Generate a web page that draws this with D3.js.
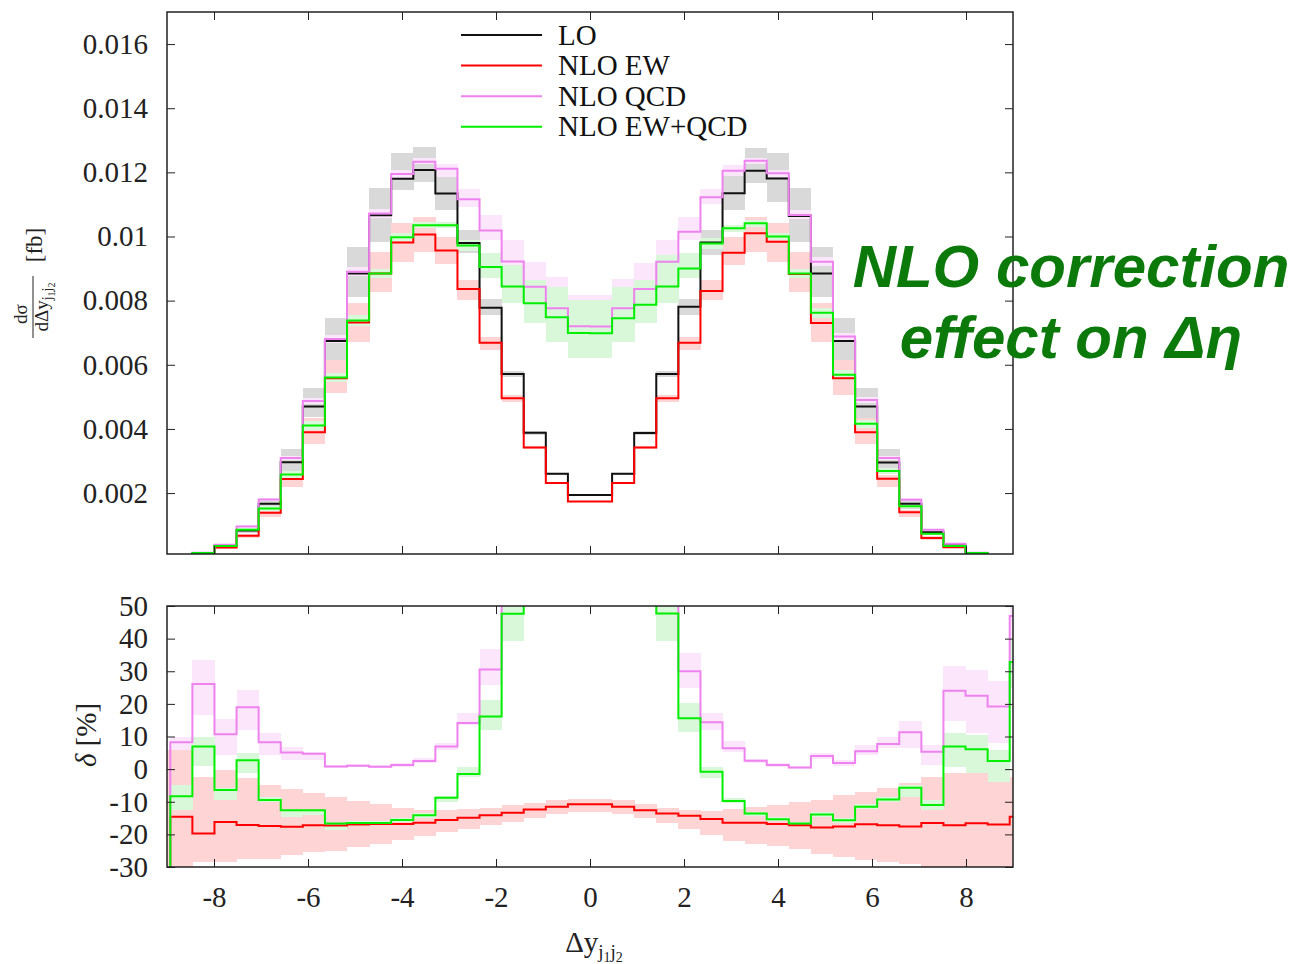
<!DOCTYPE html>
<html lang="en">
<head>
<meta charset="UTF-8">
<title>NLO correction effect on Δη</title>
<script src="https://cdn.jsdelivr.net/npm/d3@7"></script>
<style>
  body { margin: 0; background: #fff; }
  svg text { font-family: "Liberation Serif", "Times New Roman", serif; }
</style>
</head>
<body>
<div id="chart"></div>
<script>
// bin edges of the Δy histogram (two thin bins at the very ends)
const edges = [-9, -8.93, -8.46, -7.99, -7.52, -7.05, -6.58, -6.11, -5.64, -5.17, -4.70, -4.23, -3.76, -3.29, -2.82, -2.35, -1.88, -1.41, -0.94, -0.47, 0,
  0.47, 0.94, 1.41, 1.88, 2.35, 2.82, 3.29, 3.76, 4.23, 4.70, 5.17, 5.64, 6.11, 6.58, 7.05, 7.52, 7.99, 8.46, 8.93, 9];

// upper panel: dσ/dΔy [fb]
const lo = [0, 0.00004, 0.00012, 0.00036, 0.00083, 0.00167, 0.00296, 0.00470, 0.00674, 0.00885, 0.01066, 0.01180, 0.01207, 0.01134, 0.00980, 0.00778, 0.00571, 0.00388, 0.00260, 0.00194,
  0.00194, 0.00260, 0.00387, 0.00571, 0.00781, 0.00981, 0.01135, 0.01205, 0.01181, 0.01064, 0.00885, 0.00674, 0.00470, 0.00295, 0.00167, 0.00078, 0.00037, 0.00012, 0.00004, 0];
const nloEW = [0, 0.00003, 0.00010, 0.00030, 0.00067, 0.00139, 0.00244, 0.00390, 0.00558, 0.00732, 0.00885, 0.00981, 0.01006, 0.00956, 0.00836, 0.00669, 0.00496, 0.00342, 0.00231, 0.00174,
  0.00174, 0.00231, 0.00342, 0.00496, 0.00669, 0.00830, 0.00949, 0.01010, 0.00984, 0.00883, 0.00730, 0.00558, 0.00390, 0.00245, 0.00140, 0.00060, 0.00031, 0.00010, 0.00003, 0];
const nloQCD = [0, 0.00004, 0.00014, 0.00039, 0.00096, 0.00180, 0.00309, 0.00487, 0.00680, 0.00890, 0.01072, 0.01195, 0.01233, 0.01211, 0.01116, 0.01019, 0.00922, 0.00843, 0.00776, 0.00720,
  0.00719, 0.00776, 0.00836, 0.00921, 0.01015, 0.01122, 0.01205, 0.01236, 0.01197, 0.01067, 0.00921, 0.00688, 0.00490, 0.00309, 0.00179, 0.00086, 0.00042, 0.00014, 0.00004, 0];
const nloEWQCD = [0, 0.00004, 0.00013, 0.00035, 0.00086, 0.00152, 0.00258, 0.00411, 0.00560, 0.00738, 0.00885, 0.00998, 0.01035, 0.01035, 0.00972, 0.00905, 0.00844, 0.00792, 0.00748, 0.00699,
  0.00698, 0.00745, 0.00787, 0.00844, 0.00900, 0.00978, 0.01026, 0.01041, 0.01000, 0.00885, 0.00762, 0.00569, 0.00416, 0.00269, 0.00159, 0.00073, 0.00035, 0.00013, 0.00004, 0];

// scale-variation bands, upper panel
const loBandLow = [0, 0.00004, 0.00011, 0.00033, 0.00077, 0.00150, 0.00267, 0.00437, 0.00615, 0.00812, 0.00984, 0.01145, 0.01171, 0.01083, 0.00948, 0.00755, 0.00562, 0.00382, 0.00256, 0.00191,
  0.00191, 0.00256, 0.00381, 0.00562, 0.00755, 0.00942, 0.01083, 0.01168, 0.01108, 0.00984, 0.00812, 0.00615, 0.00434, 0.00267, 0.00150, 0.00072, 0.00034, 0.00011, 0.00004, 0];
const loBandHigh = [0, 0.00004, 0.00013, 0.00039, 0.00091, 0.00184, 0.00337, 0.00527, 0.00745, 0.00966, 0.01150, 0.01261, 0.01278, 0.01192, 0.01020, 0.00805, 0.00580, 0.00394, 0.00264, 0.00197,
  0.00197, 0.00264, 0.00393, 0.00580, 0.00805, 0.01020, 0.01192, 0.01275, 0.01261, 0.01150, 0.00966, 0.00745, 0.00527, 0.00337, 0.00184, 0.00086, 0.00040, 0.00013, 0.00004, 0];
const ewBandLow = [0, 0.00003, 0.00009, 0.00027, 0.00060, 0.00126, 0.00220, 0.00352, 0.00512, 0.00672, 0.00828, 0.00922, 0.00953, 0.00914, 0.00802, 0.00646, 0.00484, 0.00336, 0.00228, 0.00172,
  0.00172, 0.00228, 0.00336, 0.00484, 0.00646, 0.00802, 0.00911, 0.00953, 0.00922, 0.00828, 0.00672, 0.00506, 0.00352, 0.00220, 0.00126, 0.00054, 0.00028, 0.00009, 0.00003, 0];
const ewBandHigh = [0, 0.00003, 0.00011, 0.00033, 0.00072, 0.00147, 0.00257, 0.00434, 0.00615, 0.00794, 0.00953, 0.01043, 0.01062, 0.00999, 0.00864, 0.00688, 0.00506, 0.00348, 0.00234, 0.00176,
  0.00176, 0.00234, 0.00348, 0.00506, 0.00688, 0.00864, 0.00999, 0.01062, 0.01043, 0.00953, 0.00794, 0.00615, 0.00434, 0.00257, 0.00147, 0.00066, 0.00034, 0.00011, 0.00003, 0];
const qcdBandLow = [0, 0.00004, 0.00013, 0.00038, 0.00093, 0.00175, 0.00302, 0.00478, 0.00668, 0.00876, 0.01058, 0.01183, 0.01225, 0.01186, 0.01093, 0.00989, 0.00905, 0.00838, 0.00770, 0.00715,
  0.00715, 0.00770, 0.00830, 0.00905, 0.00989, 0.01100, 0.01190, 0.01226, 0.01185, 0.01053, 0.00908, 0.00676, 0.00481, 0.00302, 0.00174, 0.00083, 0.00040, 0.00013, 0.00004, 0];
const qcdBandHigh = [0, 0.00004, 0.00015, 0.00041, 0.00099, 0.00186, 0.00317, 0.00496, 0.00692, 0.00904, 0.01086, 0.01208, 0.01245, 0.01227, 0.01147, 0.01067, 0.00989, 0.00922, 0.00875, 0.00818,
  0.00818, 0.00869, 0.00916, 0.00989, 0.01060, 0.01147, 0.01222, 0.01245, 0.01208, 0.01082, 0.00935, 0.00700, 0.00499, 0.00317, 0.00185, 0.00089, 0.00044, 0.00015, 0.00004, 0];
const ewqcdBandLow = [0, 0.00004, 0.00012, 0.00033, 0.00082, 0.00145, 0.00248, 0.00398, 0.00545, 0.00722, 0.00870, 0.00985, 0.01025, 0.01025, 0.00955, 0.00870, 0.00792, 0.00730, 0.00672, 0.00620,
  0.00620, 0.00672, 0.00730, 0.00792, 0.00870, 0.00960, 0.01015, 0.01031, 0.00988, 0.00870, 0.00746, 0.00554, 0.00403, 0.00259, 0.00152, 0.00069, 0.00033, 0.00012, 0.00004, 0];
const ewqcdBandHigh = [0, 0.00004, 0.00014, 0.00037, 0.00090, 0.00159, 0.00268, 0.00424, 0.00575, 0.00754, 0.00900, 0.01011, 0.01045, 0.01045, 0.00990, 0.00948, 0.00911, 0.00864, 0.00844, 0.00802,
  0.00802, 0.00844, 0.00864, 0.00942, 0.00948, 0.00995, 0.01037, 0.01051, 0.01012, 0.00900, 0.00778, 0.00584, 0.00429, 0.00279, 0.00166, 0.00077, 0.00037, 0.00014, 0.00004, 0];

// lower panel: δ [%] relative to LO
const deltaEW = [-40, -14.6, -19.7, -16.2, -17.1, -17.4, -17.7, -17.2, -17.3, -17.0, -16.8, -16.8, -16.4, -15.6, -14.9, -14.1, -13.4, -12.4, -11.5, -10.8,
  -10.8, -11.5, -12.6, -13.6, -14.3, -15.3, -16.4, -16.4, -16.8, -17.2, -17.9, -17.6, -16.9, -17.2, -17.6, -16.5, -17.2, -16.6, -17.0, -14.6];
const deltaQCD = [-40, 8.2, 26.1, 10.7, 19.0, 8.2, 5.1, 4.7, 0.8, 1.0, 0.7, 1.3, 2.5, 6.9, 14.1, 30.5, 61, 117, 198, 271,
  271, 198, 117, 61, 30.0, 14.4, 6.4, 2.6, 1.3, 0.5, 4.0, 1.9, 5.5, 7.7, 11.3, 5.3, 24.0, 22.5, 19.2, 46.9];
const deltaEWQCD = [-40, -8.3, 6.9, -6.4, 2.7, -9.5, -12.6, -12.6, -16.7, -16.5, -16.5, -15.6, -14.1, -8.8, -1.5, 16.1, 47.6, 104, 188, 260,
  260, 187, 103, 47.7, 15.6, -0.8, -9.8, -13.6, -15.4, -16.7, -13.9, -15.7, -11.5, -9.3, -5.7, -11.0, 6.9, 6.1, 2.5, 32.8];

const dEWBandLow = [-36, -35, -28.5, -28.5, -27.4, -27.4, -26.4, -25.4, -25.2, -23.8, -22.8, -21.8, -20.5, -19.4, -18.2, -17.2, -16.2, -15.0, -13.9, -13.1,
  -13.1, -13.9, -15.0, -16.4, -18.2, -20.3, -22.0, -22.8, -23.6, -24.4, -25.9, -26.9, -27.9, -28.5, -29.0, -30.0, -30.5, -31.0, -31.0, -31.0];
const dEWBandHigh = [5.9, 5.9, -2.3, -0.3, -2.8, -4.9, -6.2, -7.2, -8.5, -9.8, -10.8, -11.9, -12.6, -12.6, -12.3, -11.8, -11.0, -10.3, -9.6, -9.2,
  -9.2, -9.6, -10.6, -11.8, -12.4, -12.8, -12.3, -11.6, -11.0, -10.0, -9.5, -7.9, -6.9, -5.9, -4.4, -2.3, -1.3, -0.8, -2.3, -2.3];
const dQCDBandLow = [-40, 6.0, 16.7, 4.4, 12.1, 4.4, 2.8, 2.8, 0.3, 0.5, 0.2, 0.7, 1.8, 6.0, 13.6, 25.9, 55, 100, 170, 240,
  240, 170, 100, 55, 24.9, 12.1, 5.4, 2.0, 0.8, 0.0, 3.2, 1.0, 4.4, 6.4, 6.4, 1.3, 14.6, 11.0, 7.9, 40];
const dQCDBandHigh = [-40, 10.0, 33.4, 15.3, 24.4, 11.0, 6.9, 5.4, 1.3, 1.5, 1.2, 1.9, 3.3, 8.0, 17.2, 36.7, 68, 130, 210, 290,
  290, 210, 130, 68, 35.6, 17.2, 8.5, 3.2, 1.8, 1.0, 5.0, 2.8, 7.4, 10.0, 14.9, 7.4, 31.5, 30.5, 26.9, 52];
const dEWQCDBandLow = [-40, -12.6, 1.1, -9.5, -1.3, -10.0, -14.6, -14.1, -18.7, -17.5, -17.2, -16.3, -15.0, -10.0, -2.3, 12.1, 39.2, 95, 175, 245,
  245, 175, 95, 39.2, 11.5, -2.6, -10.5, -14.3, -16.0, -17.4, -14.6, -16.4, -12.3, -10.0, -8.5, -12.6, 0.8, -1.3, -3.8, 25];
const dEWQCDBandHigh = [-40, -5.0, 10.0, -5.9, 4.9, -8.5, -12.6, -12.6, -16.5, -16.0, -16.0, -15.0, -13.5, -8.3, 0.8, 21.3, 50, 115, 200, 275,
  275, 200, 115, 50, 20.3, 0.8, -9.0, -13.0, -14.8, -16.2, -13.2, -15.0, -10.8, -8.6, -5.0, -9.5, 11.0, 10.5, 5.9, 40];

// ticks and labels
const xTicks = [-8, -6, -4, -2, 0, 2, 4, 6, 8];
const yTopTicks = [0.002, 0.004, 0.006, 0.008, 0.01, 0.012, 0.014, 0.016];
const yBotTicks = [-30, -20, -10, 0, 10, 20, 30, 40, 50];
const seriesNames = ['LO', 'NLO EW', 'NLO QCD', 'NLO EW+QCD'];
const seriesColors = ['#111111', '#ff0000', '#ee82ee', '#00ee00'];
const bandColors = ['#d9d9d9', '#ffd4d4', '#fce6fc', '#d9f8d9'];

const svg = d3.select('#chart').append('svg')
    .attr('width', 1298)
    .attr('height', 964);

const left = 167, right = 1013;
const topPanel = {top: 12, bottom: 554};
const botPanel = {top: 606, bottom: 867};

const x = d3.scaleLinear().domain([-9, 9]).range([left, right]);
const yTop = d3.scaleLinear().domain([0.0001, 0.017]).range([topPanel.bottom, topPanel.top]);
const yBot = d3.scaleLinear().domain([-30, 50]).range([botPanel.bottom, botPanel.top]);

const defs = svg.append('defs');
function clip(id, p) {
    defs.append('clipPath').attr('id', id).append('rect')
        .attr('x', left).attr('y', p.top)
        .attr('width', right - left).attr('height', p.bottom - p.top);
}
clip('clipTop', topPanel);
clip('clipBot', botPanel);

function drawBand(g, y, low, high, color) {
    g.append('g').selectAll('rect')
      .data(low)
      .enter().append('rect')
        .attr('x', (d, i) => x(edges[i]))
        .attr('width', (d, i) => x(edges[i + 1]) - x(edges[i]) + 0.4)
        .attr('y', (d, i) => y(high[i]))
        .attr('height', (d, i) => Math.max(0, y(d) - y(high[i])))
        .attr('fill', color)
        .attr('shape-rendering', 'crispEdges');
}

function drawSteps(g, y, values, color) {
    const pts = edges.map((e, i) => [e, values[Math.min(i, values.length - 1)]]);
    const line = d3.line()
        .x(d => x(d[0]))
        .y(d => y(d[1]))
        .curve(d3.curveStepAfter);
    g.append('path')
        .datum(pts)
        .attr('fill', 'none')
        .attr('stroke', color)
        .attr('stroke-width', 2)
        .attr('d', line);
}

function drawAxes(y, p, yTicks, yFmt, xLabels) {
    const font = '"Liberation Serif", "Times New Roman", serif';
    const style = a => a.attr('font-size', 29).attr('font-family', font).attr('color', '#222')
        .call(s => s.select('.domain').remove());
    svg.append('g').attr('transform', `translate(${left},0)`)
        .call(d3.axisLeft(y).tickValues(yTicks).tickSize(-8).tickPadding(19).tickFormat(yFmt))
        .call(style);
    svg.append('g').attr('transform', `translate(${right},0)`)
        .call(d3.axisRight(y).tickValues(yTicks).tickSize(-8).tickFormat(''))
        .call(style);
    svg.append('g').attr('transform', `translate(0,${p.bottom})`)
        .call(d3.axisBottom(x).tickValues(xTicks).tickSize(-8).tickPadding(19)
            .tickFormat(xLabels ? (d => String(d)) : ''))
        .call(style);
    svg.append('g').attr('transform', `translate(0,${p.top})`)
        .call(d3.axisTop(x).tickValues(xTicks).tickSize(-8).tickFormat(''))
        .call(style);
    svg.append('rect')
        .attr('x', left).attr('y', p.top)
        .attr('width', right - left).attr('height', p.bottom - p.top)
        .attr('fill', 'none').attr('stroke', '#222').attr('stroke-width', 1.5);
}

// upper panel
const gTop = svg.append('g').attr('clip-path', 'url(#clipTop)');
drawBand(gTop, yTop, loBandLow, loBandHigh, bandColors[0]);
drawBand(gTop, yTop, ewBandLow, ewBandHigh, bandColors[1]);
drawBand(gTop, yTop, qcdBandLow, qcdBandHigh, bandColors[2]);
drawBand(gTop, yTop, ewqcdBandLow, ewqcdBandHigh, bandColors[3]);
[lo, nloEW, nloQCD, nloEWQCD].forEach((s, i) => drawSteps(gTop, yTop, s, seriesColors[i]));
drawAxes(yTop, topPanel, yTopTicks, d => String(+d.toFixed(3)), false);

// lower panel
const gBot = svg.append('g').attr('clip-path', 'url(#clipBot)');
drawBand(gBot, yBot, dEWBandLow, dEWBandHigh, bandColors[1]);
drawBand(gBot, yBot, dQCDBandLow, dQCDBandHigh, bandColors[2]);
drawBand(gBot, yBot, dEWQCDBandLow, dEWQCDBandHigh, bandColors[3]);
[deltaEW, deltaQCD, deltaEWQCD].forEach((s, i) => drawSteps(gBot, yBot, s, seriesColors[i + 1]));
drawAxes(yBot, botPanel, yBotTicks, d => String(d), true);

// legend
const legend = svg.append('g');
seriesNames.forEach((name, i) => {
    const cy = 35 + i * 30.6;
    legend.append('line')
        .attr('x1', 461).attr('x2', 542).attr('y1', cy).attr('y2', cy)
        .attr('stroke', seriesColors[i]).attr('stroke-width', 2);
    legend.append('text')
        .attr('x', 558).attr('y', cy + 9.5)
        .attr('font-size', 29).attr('fill', '#111')
        .text(name);
});

// y label, upper panel: dσ / dΔy_{j1j2} [fb]
const yl = svg.append('g').attr('transform', 'rotate(-90)').attr('fill', '#222');
yl.append('text').attr('x', -314).attr('y', 27).attr('text-anchor', 'middle').attr('font-size', 19).text('dσ');
yl.append('line').attr('x1', -338).attr('x2', -276).attr('y1', 33).attr('y2', 33)
    .attr('stroke', '#222').attr('stroke-width', 1);
const den = yl.append('text').attr('x', -307).attr('y', 48).attr('text-anchor', 'middle').attr('font-size', 19);
den.append('tspan').text('dΔy');
den.append('tspan').attr('font-size', 14).attr('dy', 4).text('j');
den.append('tspan').attr('font-size', 10).attr('dy', 3).text('1');
den.append('tspan').attr('font-size', 14).attr('dy', -3).text('j');
den.append('tspan').attr('font-size', 10).attr('dy', 3).text('2');
yl.append('text').attr('x', -245).attr('y', 42).attr('text-anchor', 'middle').attr('font-size', 23).text('[fb]');

// y label, lower panel
const yl2 = svg.append('text')
    .attr('transform', 'translate(96,735) rotate(-90)')
    .attr('text-anchor', 'middle').attr('font-size', 29).attr('fill', '#222');
yl2.append('tspan').attr('font-style', 'italic').text('δ');
yl2.append('tspan').text(' [%]');

// x label
const xl = svg.append('text')
    .attr('x', 594).attr('y', 952)
    .attr('text-anchor', 'middle').attr('font-size', 29).attr('fill', '#222');
xl.append('tspan').text('Δy');
xl.append('tspan').attr('font-size', 19).attr('dy', 6).text('j');
xl.append('tspan').attr('font-size', 14).attr('dy', 4).text('1');
xl.append('tspan').attr('font-size', 19).attr('dy', -4).text('j');
xl.append('tspan').attr('font-size', 14).attr('dy', 4).text('2');

// annotation
const note = svg.append('g')
    .attr('font-weight', 'bold').attr('font-style', 'italic')
    .attr('font-size', 60).attr('fill', '#0b7a0b')
    .attr('text-anchor', 'middle');
note.append('text').attr('x', 1071).attr('y', 287)
    .style('font-family', '"Liberation Sans", Arial, sans-serif').text('NLO correction');
note.append('text').attr('x', 1071).attr('y', 358)
    .style('font-family', '"Liberation Sans", Arial, sans-serif').text('effect on Δη');
</script>
</body>
</html>
